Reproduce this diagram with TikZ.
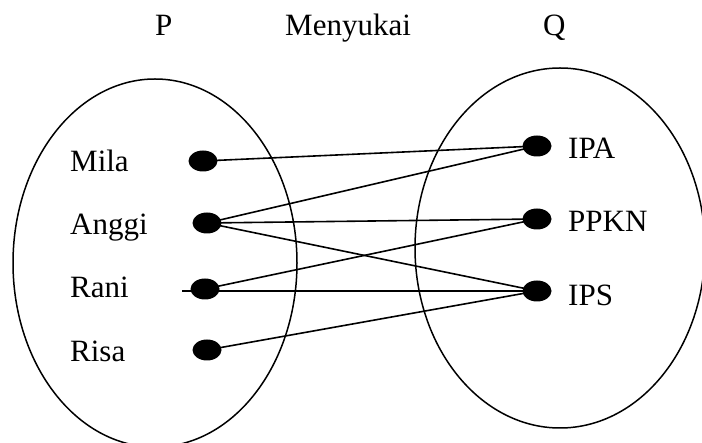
\documentclass[tikz,border=0pt]{standalone}
\usepackage{fontspec}
\setmainfont{Liberation Serif}
\usetikzlibrary{shapes.geometric}

\begin{document}
\begin{tikzpicture}[x=1pt, y=-1pt,
    dot/.style={ellipse, fill=black, inner sep=0pt, minimum width=29pt, minimum height=21pt},
    lbl/.style={anchor=base west, inner sep=0pt, font=\fontsize{31}{37}\selectfont},
    link/.style={black, line width=1.6pt}]
    \useasboundingbox (0, 0) rectangle (702, 443);
    % the two sets
    \draw[line width=1.5pt] (155, 263) ellipse [x radius=142, y radius=184];
    \draw[line width=1.5pt] (560, 248) ellipse [x radius=145, y radius=180];
    % titles
    \node[lbl](p) at (155, 36) {P};
    \node[lbl](menyukai) at (285, 36) {Menyukai};
    \node[lbl](q) at (543, 36) {Q};
    % members of P
    \node[lbl](mila) at (70, 172) {Mila};
    \node[lbl](anggi) at (70, 235) {Anggi};
    \node[lbl](rani) at (70, 298) {Rani};
    \node[lbl](risa) at (70, 362) {Risa};
    % members of Q
    \node[lbl](ipa) at (568, 159) {IPA};
    \node[lbl](ppkn) at (568, 232) {PPKN};
    \node[lbl](ips) at (568, 306) {IPS};
    % dots
    \node[dot](d1) at (203, 161) {};
    \node[dot](d2) at (207, 223) {};
    \node[dot](d3) at (205, 289) {};
    \node[dot](d4) at (207, 350) {};
    \node[dot](e1) at (537, 146) {};
    \node[dot](e2) at (537, 219) {};
    \node[dot](e3) at (537, 291) {};
    \coordinate(stub) at (182, 291);
    % relation
    \draw[link] (d1.center)--(e1.center);
    \draw[link] (d2.center)--(e1.center);
    \draw[link] (d2.center)--(e2.center);
    \draw[link] (d2.center)--(e3.center);
    \draw[link] (d3.center)--(e2.center);
    \draw[link] (stub)--(e3.center);
    \draw[link] (d4.center)--(e3.center);
\end{tikzpicture}
\end{document}
